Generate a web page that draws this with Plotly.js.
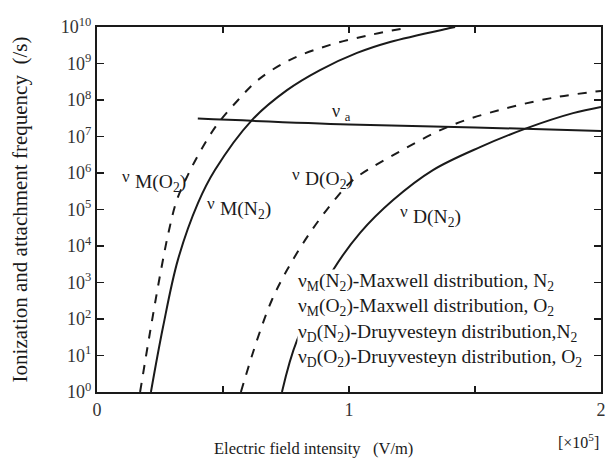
<!DOCTYPE html>
<html><head><meta charset="utf-8">
<script src="https://cdn.plot.ly/plotly-3.0.1.min.js"></script>
<style>html,body{margin:0;padding:0;background:#fff}#c{width:607px;height:461px}</style>
</head><body><div id="c"></div>
<script>
// Electric field intensity [x10^5 V/m]; frequencies as log10 exponents (/s)
const mO2_x = [0.171, 0.212, 0.254, 0.286, 0.317, 0.361, 0.413, 0.476, 0.560, 0.639, 0.766, 0.925, 1.083, 1.222];
const mO2_e = [0, 1.70, 3.34, 4.44, 5.26, 5.95, 6.63, 7.32, 8.0, 8.55, 9.10, 9.51, 9.78, 9.97];
const mN2_x = [0.214, 0.262, 0.321, 0.401, 0.468, 0.615, 0.754, 0.885, 1.032, 1.163, 1.401, 1.421];
const mN2_e = [0, 1.78, 3.62, 5.18, 6.08, 7.45, 8.27, 8.82, 9.29, 9.59, 9.97, 10.0];
const dO2_x = [0.571, 0.635, 0.694, 0.754, 0.845, 0.952, 1.016, 1.163, 1.401, 1.627, 1.825, 2.0];
const dO2_e = [0, 1.42, 2.52, 3.34, 4.36, 5.34, 5.81, 6.44, 7.29, 7.78, 8.08, 8.25];
const dN2_x = [0.734, 0.794, 0.937, 1.044, 1.175, 1.333, 1.52, 1.706, 1.889, 2.0];
const dN2_e = [0, 1.42, 3.34, 4.36, 5.26, 6.08, 6.71, 7.23, 7.64, 7.81];
const a_x = [0.40, 1.0, 1.5, 2.0];
const a_e = [7.49, 7.33, 7.25, 7.15];
const yTickExp = [0,1,2,3,4,5,6,7,8,9,10];
const xTickVals = [0, 0.5, 1, 1.5, 2];
const xTickText = ["0", "", "1", "", "2"];
// curve labels: [x, log10 y, subscript text]
const lblX = [0.091, 0.43, 0.766, 1.195];
const lblE = [5.73, 4.99, 5.8, 4.77];
const lblT = ["M(O<sub>2</sub>)", "M(N<sub>2</sub>)", "D(O<sub>2</sub>)", "D(N<sub>2</sub>)"];
const legLines = [
  "ν<sub>M</sub>(N<sub>2</sub>)-Maxwell distribution, N<sub>2</sub>",
  "ν<sub>M</sub>(O<sub>2</sub>)-Maxwell distribution, O<sub>2</sub>",
  "ν<sub>D</sub>(N<sub>2</sub>)-Druyvesteyn distribution,N<sub>2</sub>",
  "ν<sub>D</sub>(O<sub>2</sub>)-Druyvesteyn distribution, O<sub>2</sub>"
];

const toVal = e => e.map(v => Math.pow(10, v));
const ink = '#1a1a1a';
const serif = 'Liberation Serif, Times New Roman, serif';
function tr(x, e, dash){
  return {x: x, y: toVal(e), mode: 'lines', type: 'scatter', line: {color: ink, width: 2, dash: dash, shape: 'spline', smoothing: 1}, hoverinfo: 'skip', showlegend: false};
}
const data = [
  tr(mO2_x, mO2_e, 'dash'),
  tr(mN2_x, mN2_e, 'solid'),
  tr(dO2_x, dO2_e, 'dash'),
  tr(dN2_x, dN2_e, 'solid'),
  tr(a_x, a_e, 'solid')
];
const ann = (x, y, text, size, extra) => Object.assign({x: x, y: y, xref: 'x', yref: 'y', text: text, showarrow: false, xanchor: 'left', yanchor: 'middle', font: {family: serif, size: size, color: ink}}, extra || {});
const annotations = [];
lblX.forEach((x, i) => {
  annotations.push(ann(x, lblE[i] + 0.17, "ν", 17));
  annotations.push(ann(x + 0.05, lblE[i], lblT[i], 19.5));
});
annotations.push(ann(0.925, 7.67, "ν <sub>a</sub>", 18));
annotations.push(ann(0.795, 1.97, legLines.join('<br>'), 19.5, {align: 'left', bgcolor: '#ffffff', borderpad: 0}));
annotations.push({xref: 'paper', yref: 'paper', x: -0.153, y: 0.50, text: "Ionization and attachment frequency  (/s)", textangle: -90, showarrow: false, xanchor: 'center', yanchor: 'middle', font: {family: serif, size: 21, color: ink}});
annotations.push({xref: 'paper', yref: 'paper', x: 0.43, y: -0.155, text: "Electric field intensity   (V/m)", showarrow: false, xanchor: 'center', yanchor: 'middle', font: {family: serif, size: 16.5, color: ink}});
annotations.push({xref: 'paper', yref: 'paper', x: 1.0, y: -0.135, text: "[×10<sup>5</sup>]", showarrow: false, xanchor: 'right', yanchor: 'middle', font: {family: serif, size: 16, color: ink}});

const layout = {
  width: 607, height: 461,
  margin: {l: 97, r: 6, t: 27, b: 69},
  paper_bgcolor: '#fff', plot_bgcolor: '#fff',
  xaxis: {range: [0, 2], tickvals: xTickVals, ticktext: xTickText, ticks: 'inside', ticklen: 6, tickwidth: 1.5, tickcolor: ink,
    showline: true, linecolor: ink, linewidth: 2, mirror: 'ticks', showgrid: false, zeroline: false,
    tickfont: {family: serif, size: 18, color: '#333'}},
  yaxis: {type: 'log', range: [0, 10], tickvals: toVal(yTickExp), ticktext: yTickExp.map(e => '10<sup>' + e + '</sup>'),
    ticks: 'inside', ticklen: 7, tickwidth: 1.5, tickcolor: ink,
    showline: true, linecolor: ink, linewidth: 2, mirror: 'ticks', showgrid: false, zeroline: false,
    tickfont: {family: serif, size: 18, color: '#333'}},
  annotations: annotations
};
Plotly.newPlot('c', data, layout, {displayModeBar: false, staticPlot: true});
</script></body></html>
